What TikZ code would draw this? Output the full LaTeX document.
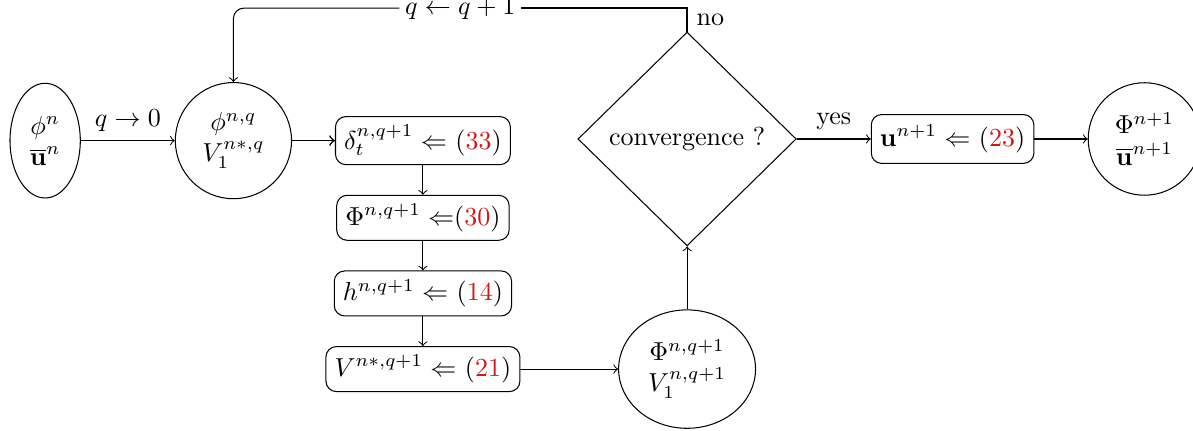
\documentclass[tikz,border=0pt]{standalone}
\usepackage{amsmath}
\usepackage{xcolor}
\usepackage{tikz}
\usetikzlibrary{positioning,shapes.geometric,calc}
\definecolor{eqred}{HTML}{D01818}
\tikzset{
  state/.style ={ellipse,draw,align=center,inner sep=0pt},
  iterst/.style={circle,draw,align=center,inner sep=0pt},
  upd/.style   ={rectangle,rounded corners=4pt,draw,align=center,minimum height=6mm,inner sep=3.33pt},
  test/.style  ={diamond,draw,minimum width=29.5mm,minimum height=28.9mm,inner sep=0pt},
  arr/.style   ={->},
  lbl/.style   ={above},
}
\newcommand{\eqnum}[1]{(\textcolor{eqred}{#1})}

\begin{document}
\begin{tikzpicture}[node distance=4mm]
  \useasboundingbox (0,0) rectangle (16.12,-5.82);
  \node[state, minimum width=9.5mm, minimum height=15.5mm] (init) at (0.61,-1.9) {$\phi^n$\\$\overline{\mathbf{u}}^n$};
  \node[iterst, minimum size=15.7mm, right=12.7mm of init] (iter) {$\phi^{n,q}$\\$V_1^{n*,q}$};
  \node[upd, right=5.8mm of iter] (s1) {$\delta_t^{n,q+1} \Leftarrow$ \eqnum{33}};
  \node[upd, below=of s1] (s2) {$\Phi^{n,q+1} \Leftarrow$\eqnum{30}};
  \node[upd, below=of s2] (s3) {$h^{n,q+1} \Leftarrow$ \eqnum{14}};
  \node[upd, below=of s3] (s4) {$V^{n*,q+1} \Leftarrow$ \eqnum{21}};
  \node[state, minimum width=18.5mm, minimum height=16mm, right=13.2mm of s4] (new) {$\Phi^{n,q+1}$\\$V_1^{n,q+1}$};
  \node[test, above=8.5mm of new] (conv) {convergence ?};
  \node[upd, minimum height=6.6mm, right=10mm of conv] (fin) {$\mathbf{u}^{n+1} \Leftarrow$ \eqnum{23}};
  \node[iterst, minimum size=15.2mm, right=7.2mm of fin] (out) {$\Phi^{n+1}$\\$\overline{\mathbf{u}}^{n+1}$};
  \node[fill=white, inner sep=2pt] (inc) at (6.22,-0.11) {$q \leftarrow q+1$};

  \draw[arr] (init) -- node[lbl]{$q \to 0$} (iter);
  \draw[arr, semithick] (iter) -- (s1);
  \draw[arr] (s1) -- (s2);
  \draw[arr] (s2) -- (s3);
  \draw[arr] (s3) -- (s4);
  \draw[arr] (s4) -- (new);
  \draw[arr] (new) -- (conv);
  \draw[arr] (conv) -- node[lbl]{yes} (fin);
  \draw[arr] (fin) -- (out);
  \draw[semithick] (conv.north) |- node[pos=0.25,right]{no} (inc.east);
  \draw[arr, rounded corners=4pt] (inc.west) -| (iter.north);
\end{tikzpicture}
\end{document}
